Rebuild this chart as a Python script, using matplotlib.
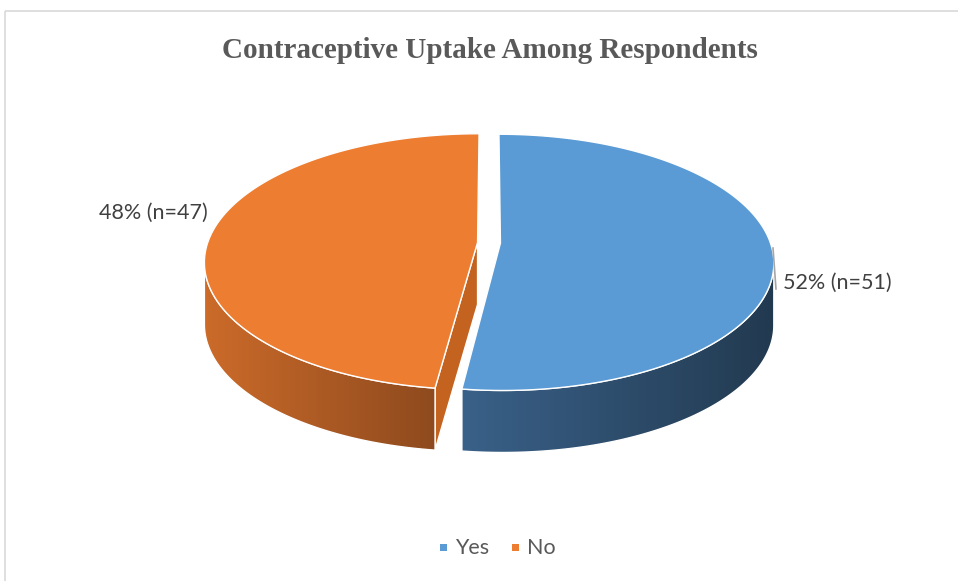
import numpy as np
import matplotlib.pyplot as plt
from matplotlib.patches import Polygon, Rectangle
from matplotlib.colors import LinearSegmentedColormap

categories = ["Yes", "No"]
counts = [51, 47]
percents = [52, 48]

top_colors = ["#5B9BD5", "#ED7D31"]
side_colors = [("#3A6189", "#223A50"), ("#CC6B2A", "#8E4A1E")]
cut_color = ["#3F6B96", "#C4631F"]

W, H = 958, 581
fig = plt.figure(figsize=(W / 100, H / 100), dpi=100)
ax = fig.add_axes([0, 0, 1, 1])
ax.set_xlim(0, W)
ax.set_ylim(H, 0)
ax.axis("off")

# chart frame
ax.add_patch(Rectangle((5.5, 10.5), W, H, fill=False, edgecolor="#D9D9D9", lw=1.2))

# pie geometry (pixels)
cx, cy = 489, 262
rx, ry = 273, 128
depth = 62
explode = 11.6 / rx
beta = -0.15   # perspective: pulls the pie centre back, enlarges the front


def project(u, v, drop=0.0):
    # u: left/right, v: back(-1) to front(+1), in radius units.
    # projective map that keeps the rim on the ellipse outline
    den = 1 + beta * v
    up = u * np.sqrt(1 - beta ** 2) / den
    vp = (v + beta) / den
    return cx + rx * up, cy + ry * vp + drop


def rim(theta, off, drop=0.0):
    t = np.radians(theta)
    return project(off[0] + np.sin(t), off[1] - np.cos(t), drop)


def arc(a, b, off, drop=0.0, n=160):
    x, y = rim(np.linspace(a, b, n), off, drop)
    return np.column_stack([x, y])


# angles where the outline is widest; the walls are seen between them
side_lo = np.degrees(np.arccos(beta))
side_hi = 360 - side_lo

total = sum(counts)
starts = np.concatenate([[0], np.cumsum(counts)[:-1]]) / total * 360
spans = np.array(counts) / total * 360

# orange sits on the left/back, so it goes down first
for i in [1, 0]:
    a, b = starts[i], starts[i] + spans[i]
    mid = np.radians((a + b) / 2)
    off = (explode * np.sin(mid), -explode * np.cos(mid))
    c0 = project(off[0], off[1])

    # radial cut face turned toward the viewer
    if 180 < a < 270:
        ex, ey = rim(a, off)
        pts = [c0, (ex, ey), (ex, ey + depth), (c0[0], c0[1] + depth)]
        ax.add_patch(Polygon(pts, closed=True, facecolor=cut_color[i],
                             edgecolor="white", lw=1.0, zorder=2))

    # outer wall for the front part of the slice, shaded left to right
    lo, hi = max(a, side_lo), min(b, side_hi)
    if hi > lo:
        top = arc(lo, hi, off)
        bot = arc(hi, lo, off, depth)
        wall = Polygon(np.vstack([top, bot]), closed=True, facecolor="none",
                       edgecolor="white", lw=1.0, zorder=4)
        ax.add_patch(wall)
        xs = np.concatenate([top[:, 0], bot[:, 0]])
        ys = np.concatenate([top[:, 1], bot[:, 1]])
        cmap = LinearSegmentedColormap.from_list("wall%d" % i, side_colors[i])
        grad = np.linspace(0, 1, 256).reshape(1, -1)
        im = ax.imshow(grad, cmap=cmap, aspect="auto", zorder=3,
                       extent=[xs.min(), xs.max(), ys.max(), ys.min()])
        im.set_clip_path(wall)

    # top face
    face = np.vstack([[c0], arc(a, b, off), [c0]])
    ax.add_patch(Polygon(face, closed=True, facecolor=top_colors[i],
                         edgecolor="white", lw=1.0, zorder=5))

ax.set_xlim(0, W)
ax.set_ylim(H, 0)

label_font = ["Lato", "DejaVu Sans"]
ax.text(490, 50, "Contraceptive Uptake Among Respondents", ha="center", va="center",
        fontsize=21, fontweight="bold", color="#595959", family="Liberation Serif")

ax.text(783, 283, "%d%% (n=%d)" % (percents[0], counts[0]), ha="left", va="center",
        fontsize=15.5, color="#404040", family=label_font)
ax.text(208, 213, "%d%% (n=%d)" % (percents[1], counts[1]), ha="right", va="center",
        fontsize=15.5, color="#404040", family=label_font)
ax.plot([773, 776], [248, 289], color="#A6A6A6", lw=1.2, zorder=6)

# legend
lx = [440, 512]
for k in range(len(categories)):
    ax.add_patch(Rectangle((lx[k], 544), 7, 7, facecolor=top_colors[k], edgecolor="none"))
    ax.text(lx[k] + 15, 548, categories[k], ha="left", va="center",
            fontsize=15.5, color="#595959", family=label_font)

fig.savefig("out.png", dpi=100)
